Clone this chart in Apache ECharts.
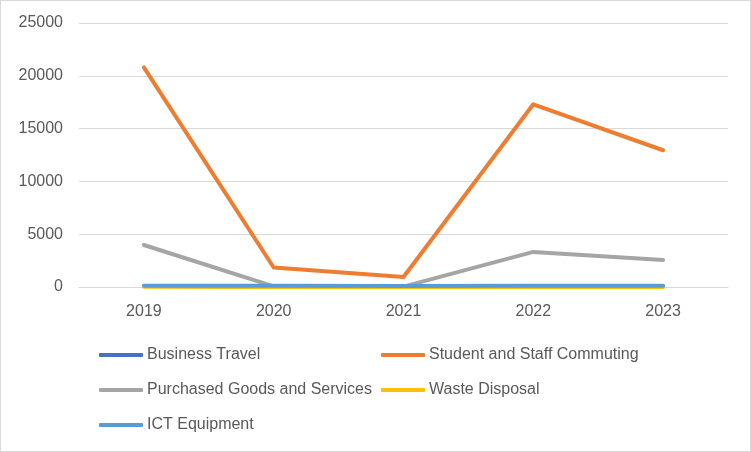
<!DOCTYPE html>
<html><head><meta charset="utf-8">
<script src="https://cdn.jsdelivr.net/npm/echarts@6/dist/echarts.min.js"></script>
<style>html,body{margin:0;padding:0;background:#fff}#c{width:749px;height:450px;border:1px solid #d9d9d9}</style>
</head><body><div id="c"></div>
<script>
const years = ['2019','2020','2021','2022','2023'];
const businessTravel = [90, 20, 20, 70, 80];
const studentStaffCommuting = [20800, 1850, 950, 17300, 12950];
const purchasedGoods = [3980, 60, 40, 3320, 2560];
const wasteDisposal = [15, 5, 5, 10, 10];
const ictEquipment = [130, 110, 100, 120, 120];
const yTicks = {min: 0, max: 25000, interval: 5000};

const names = ['Business Travel','Student and Staff Commuting','Purchased Goods and Services','Waste Disposal','ICT Equipment'];
const colors = ['#4472C4','#ED7D31','#A5A5A5','#FFC000','#5B9BD5'];
const values = [businessTravel, studentStaffCommuting, purchasedGoods, wasteDisposal, ictEquipment];
const legendPos = [[93,341],[375,341],[93,376],[375,376],[93,411]];
const font = 'Liberation Sans, Arial, sans-serif';

const chart = echarts.init(document.getElementById('c'));
chart.setOption({
  animation: false,
  grid: {left: 78, right: 22, top: 22, bottom: 164},
  xAxis: {
    type: 'category', data: years, boundaryGap: true,
    axisLine: {lineStyle: {color: '#d9d9d9', width: 1}},
    axisTick: {show: false},
    axisLabel: {color: '#595959', fontSize: 16, fontFamily: font, margin: 17}
  },
  yAxis: {
    type: 'value', min: yTicks.min, max: yTicks.max, interval: yTicks.interval,
    axisLine: {show: false}, axisTick: {show: false},
    splitLine: {lineStyle: {color: '#d9d9d9', width: 1}},
    axisLabel: {color: '#595959', fontSize: 16, fontFamily: font, margin: 16, formatter: v => String(v)}
  },
  legend: names.map((n, i) => ({
    data: [n], left: legendPos[i][0], top: legendPos[i][1],
    icon: 'roundRect', itemWidth: 44, itemHeight: 4, itemGap: 0,
    textStyle: {color: '#595959', fontSize: 16, fontFamily: font, padding: [0,0,0,-1]}
  })),
  series: names.map((n, i) => ({
    name: n, type: 'line', data: values[i], showSymbol: false, symbol: 'none',
    lineStyle: {color: colors[i], width: 4, cap: 'round', join: 'round'},
    itemStyle: {color: colors[i]}
  }))
});
</script></body></html>
